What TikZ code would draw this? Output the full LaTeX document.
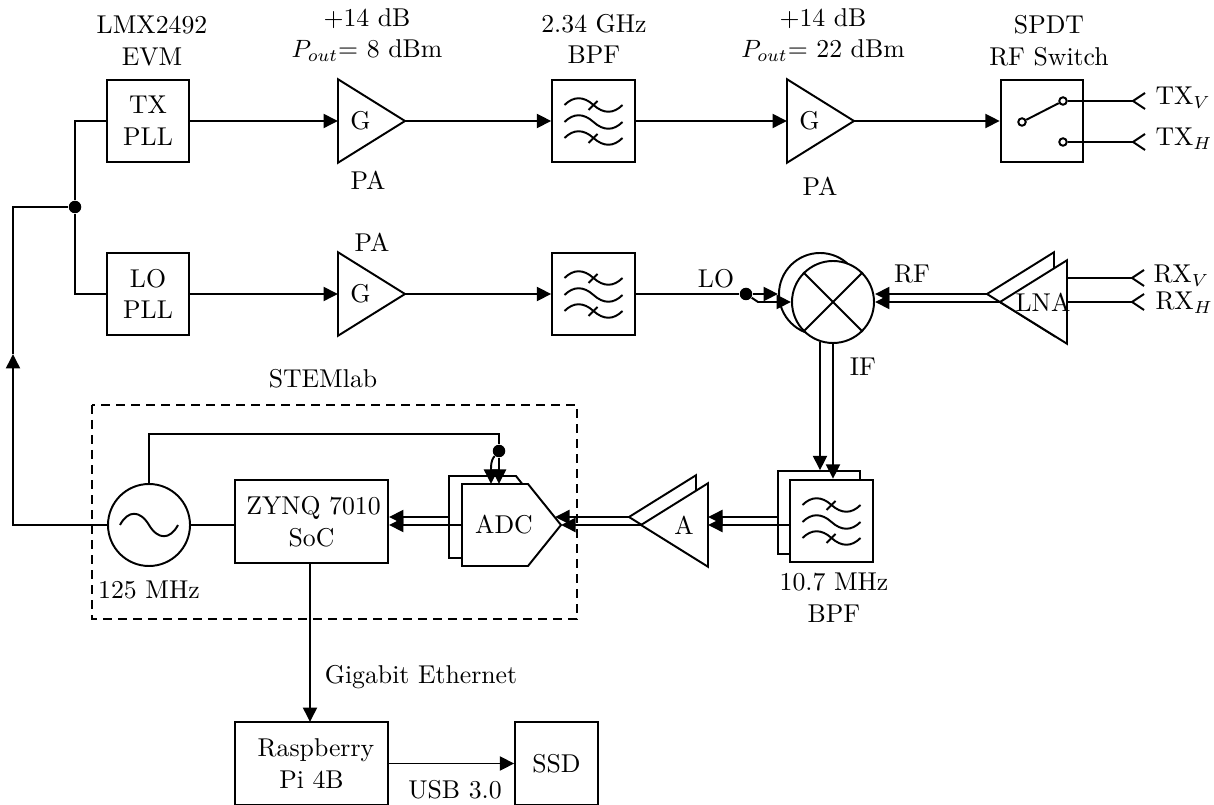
\documentclass[tikz,border=0pt]{standalone}
\usetikzlibrary{arrows.meta,calc}
\tikzset{
  x=0.4pt,y=-0.4pt,
  every node/.style={font=\fontsize{10.3}{12.7}\selectfont,inner sep=0pt},
  wire/.style={line width=0.78pt},
  tip/.style={-{Triangle[length=5.8pt,width=5.6pt]}},
  blockbox/.style={draw,line width=0.78pt,fill=white,align=center,minimum width=33pt,minimum height=33pt},
  ampbox/.style={minimum width=26.4pt,minimum height=33pt,anchor=west},
  mixer/.style={draw,circle,line width=0.78pt,fill=white,minimum size=32.8pt},
  dotnode/.style={circle,fill=black,minimum size=5pt},
  contact/.style={circle,draw,fill=white,line width=0.78pt,minimum size=3pt},
  lbl/.style={align=center},
}
\newcommand{\ampright}[2]{%
  \draw[wire,fill=white] (#1.north west)--(#1.east)--(#1.south west)--cycle;
  \node at ($(#1.center)+(-11,0)$) {#2};}
\newcommand{\ampleft}[1]{%
  \draw[wire,fill=white] (#1.north east)--(#1.west)--(#1.south east)--cycle;}
\newcommand{\filtersym}[1]{%
  \begin{scope}[shift={(#1.center)}]
  \foreach \d in {-16,1,17}{
    \draw[wire,yshift={-0.4pt*\d}] (-29,0) .. controls (-20,-9) and (-10,-9) .. (0,0) .. controls (10,9) and (20,9) .. (29,0);}
  \draw[wire] (-5,-11)--(4,-20);
  \draw[wire] (-5,22)--(4,13);
  \end{scope}}
\newcommand{\antenna}[1]{%
  \draw[wire] ($(#1)+(12,-8)$)--(#1)--($(#1)+(12,8)$);}
\begin{document}
\begin{tikzpicture}
\useasboundingbox (0,0) rectangle (1214,805);

% top row
\node[blockbox] (txpll) at (148,121) {TX\\PLL};
\node[ampbox] (pa1) at (338,121) {};
\ampright{pa1}{G}
\node[blockbox] (bpf1) at (593.5,121) {};
\filtersym{bpf1}
\node[ampbox] (pa2) at (787,121) {};
\ampright{pa2}{G}
\node[blockbox] (sw) at (1042,121) {};

% second row
\node[blockbox] (lopll) at (148,294) {LO\\PLL};
\node[ampbox] (pa3) at (338,294) {};
\ampright{pa3}{G}
\node[blockbox] (bpf2) at (593.5,294) {};
\filtersym{bpf2}

% switch
\node[contact] (swin) at (1022,122) {};
\node[contact] (swv) at (1063,101) {};
\node[contact] (swh) at (1063,142) {};
\draw[wire] (swin)--(swv);
\coordinate (antv) at (1133,101);
\coordinate (anth) at (1133,142);
\draw[wire] (swv)--(antv); \antenna{antv}
\draw[wire] (swh)--(anth); \antenna{anth}
\node[anchor=base west] at (1155,105) {TX$_V$};
\node[anchor=base west] at (1155,146) {TX$_H$};

% mixer
\node[mixer] (mixb) at (820,294) {};
\node[mixer] (mixf) at (833,302) {};
\draw[wire] (mixf.north west)--(mixf.south east);
\draw[wire] (mixf.north east)--(mixf.south west);

% LNA
\node[ampbox,anchor=east] (lnab) at (1054,294) {};
\ampleft{lnab}
\node[ampbox,anchor=east] (lnaf) at (1067,302) {};
\ampleft{lnaf}
\node at (1043,302) {LNA};
\coordinate (antrv) at (1132,278);
\coordinate (antrh) at (1132,302);
\draw[wire] (lnaf.east |- antrv)--(antrv); \antenna{antrv}
\draw[wire] (lnaf.east)--(antrh); \antenna{antrh}
\node[anchor=base west] at (1153,283) {RX$_V$};
\node[anchor=base west] at (1155,310) {RX$_H$};
\draw[wire,tip] (lnab.west)--(mixf.east |- lnab.west);
\draw[wire,tip] (lnaf.west)--(mixf.east);

% connections top row
\draw[wire,tip] (txpll.east)--(pa1.west);
\draw[wire,tip] (pa1.east)--(bpf1.west);
\draw[wire,tip] (bpf1.east)--(pa2.west);
\draw[wire,tip] (pa2.east)--(sw.west);
\draw[wire,tip] (lopll.east)--(pa3.west);
\draw[wire,tip] (pa3.east)--(bpf2.west);

% LO feed
\node[dotnode] (lodot) at (746,294) {};
\coordinate (lobend) at (758,302);
\draw[wire] (bpf2.east)--(lodot);
\draw[wire,tip] (lodot)--(mixb.west);
\draw[wire,tip] (lodot)--(lobend)--(mixf.west);

% ref junction
\node[dotnode] (jct) at (75,207) {};
\draw[wire] (txpll.west) -| (jct);
\draw[wire] (lopll.west) -| (jct);

% IF BPF
\node[blockbox] (ifb) at (819,512.5) {};
\node[blockbox] (iff) at (831.5,521) {};
\filtersym{iff}
\draw[wire,tip] ($(mixb.south)+(0,6)$)--(mixb.south |- ifb.north);
\draw[wire,tip] (mixf.south)--(mixf.south |- iff.north);

% IF amp
\node[ampbox,anchor=east] (ampb) at (696,517) {};
\ampleft{ampb}
\node[ampbox,anchor=east] (ampf) at (708,525) {};
\ampleft{ampf}
\node at (684,525) {A};
\coordinate (ifbl) at (778,517);
\coordinate (iffl) at (790,525);
\draw[wire,tip] (ifbl)--(ampf.east |- ifbl);
\draw[wire,tip] (iffl)--(ampf.east);

% ADC
\draw[wire,fill=white] (449,476)--(516,476)--(548,517)--(516,558)--(449,558)--cycle;
\draw[wire,fill=white] (462,484)--(528,484)--(561,525)--(528,566)--(462,566)--cycle;
\node (adc) at (504,525) {ADC};
\coordinate (adcbt) at (555,517);
\coordinate (adcft) at (561,525);
\draw[wire,tip] (ampb.west)--(adcbt);
\draw[wire,tip] (ampf.west)--(adcft);

% SoC
\node[blockbox,minimum width=61.2pt] (soc) at (311.5,521.5) {\hspace{1.6pt}ZYNQ 7010\\SoC};
\coordinate (adcbl) at (449,517);
\coordinate (adcfl) at (462,525);
\draw[wire,tip] (adcbl)--(soc.east |- adcbl);
\draw[wire,tip] (adcfl)--(soc.east |- adcfl);

% oscillator
\node[mixer] (osc) at (149,525) {};
\draw[wire] ($(osc.center)+(-29,0)$) .. controls ($(osc.center)+(-21,-15)$) and ($(osc.center)+(-9,-15)$) .. (osc.center) .. controls ($(osc.center)+(9,15)$) and ($(osc.center)+(21,15)$) .. ($(osc.center)+(29,0)$);
\draw[wire] (osc.east)--(soc.west |- osc.east);
\coordinate (leftmid) at (13,354);
\draw[wire,tip] (osc.west) -| (leftmid);
\draw[wire] (leftmid) |- (jct);
\node[dotnode] (clkdot) at (499,451) {};
\draw[wire] (osc.north) |- (499,434) -- (clkdot);
\draw[wire,tip] (clkdot)--(499,484);
\draw[wire,tip] (clkdot) .. controls (493,458) and (491,461) .. (491,468) -- (491,484);

% dashed
\draw[wire,dash pattern=on 3.6pt off 2.4pt] (92,405) rectangle (577,619);
\node (stem) at (323,379) {STEMlab};
\node at (149,590) {125 MHz};

% bottom
\node[blockbox,minimum width=61.2pt] (rpi) at (311.5,763.5) {\hspace{3.6pt}Raspberry\\Pi 4B};
\node[blockbox] (ssd) at (556.5,763.5) {SSD};
\draw[wire,tip] (soc.south -| 310,0)--(310,722);
\draw[wire,tip] (rpi.east)--(ssd.west);
\node at (421,677) {Gigabit Ethernet};
\node at (455,790) {USB 3.0};

% labels
\node[lbl] at (152,41) {LMX2492\\EVM\hspace{3pt}};
\node[lbl] at (367,35) {+14 dB\hspace{4pt}\\$P_{out}$= 8 dBm};
\node at (368,180) {PA};
\node at (372,242) {PA};
\node[lbl] at (594,39) {2.34 GHz\\BPF};
\node[lbl] at (823,35) {+14 dB\hspace{3pt}\\$P_{out}$= 22 dBm};
\node at (820,186) {PA};
\node[lbl] at (1049,41) {SPDT\hspace{4pt}\\RF Switch};
\node at (716,279) {LO};
\node at (912,274) {RF};
\node at (863,367) {IF};
\node[lbl] at (834,598) {10.7 MHz\\BPF};
\end{tikzpicture}
\end{document}
